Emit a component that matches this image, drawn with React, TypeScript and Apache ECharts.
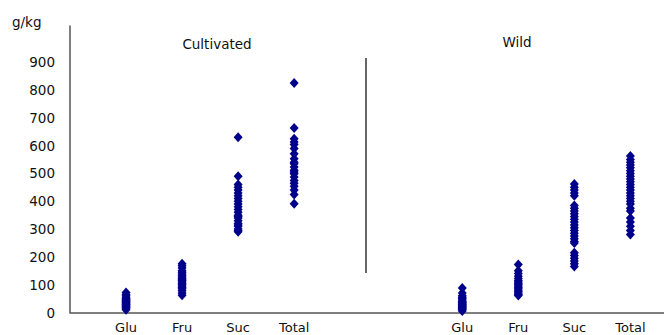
import React, { useEffect, useRef } from "react";
import * as echarts from "echarts";

const categories = ["", "Glu", "Fru", "Suc", "Total", "", "", "Glu", "Fru", "Suc", "Total"];
const yTicks = [0, 100, 200, 300, 400, 500, 600, 700, 800, 900];

// Cultivated (g/kg)
const cultGlu = [10, 15, 18, 20, 22, 25, 28, 30, 32, 35, 38, 40, 42, 45, 48, 50, 55, 60, 65, 72];
const cultFru = [62, 70, 78, 85, 90, 95, 100, 105, 110, 115, 118, 122, 128, 132, 138, 145, 150, 160, 168, 175];
const cultSuc = [630, 490, 460, 450, 440, 430, 420, 410, 400, 390, 380, 370, 360, 350, 345, 340, 330, 320, 315, 310, 300, 295, 290];
const cultTotal = [825, 663, 625, 613, 604, 590, 571, 553, 540, 535, 523, 511, 505, 499, 487, 475, 465, 454, 440, 424, 391];

// Wild (g/kg)
const wildGlu = [5, 10, 12, 15, 18, 20, 22, 25, 28, 30, 33, 35, 38, 40, 45, 50, 55, 60, 70, 88];
const wildFru = [173, 150, 140, 130, 122, 115, 110, 105, 100, 95, 90, 85, 80, 75, 70, 65, 61];
const wildSuc = [462, 450, 440, 430, 420, 385, 375, 365, 355, 345, 335, 325, 315, 305, 295, 285, 275, 265, 255, 250, 215, 205, 195, 185, 175, 165];
const wildTotal = [563, 550, 540, 530, 520, 510, 500, 490, 480, 470, 460, 450, 440, 430, 420, 410, 400, 390, 375, 365, 340, 325, 310, 295, 280];

const groups: [number, number[]][] = [
  [1, cultGlu],
  [2, cultFru],
  [3, cultSuc],
  [4, cultTotal],
  [7, wildGlu],
  [8, wildFru],
  [9, wildSuc],
  [10, wildTotal],
];

const FONT = "'DejaVu Sans', sans-serif";

export default function App() {
  const ref = useRef<HTMLDivElement>(null);
  useEffect(() => {
    if (!ref.current) return;
    const chart = echarts.init(ref.current, undefined, { renderer: "svg" });
    const data: number[][] = [];
    groups.forEach(([x, vals]) => vals.forEach((v) => data.push([x, v])));
    chart.setOption({
      animation: false,
      backgroundColor: "#fff",
      grid: { left: 70, right: 0, top: 26, bottom: 22.5 },
      xAxis: {
        type: "value",
        min: 0,
        max: 10.6,
        interval: 1,
        axisLine: { show: true, lineStyle: { color: "#555", width: 1.5 } },
        axisTick: { show: false },
        splitLine: { show: false },
        axisLabel: {
          margin: 8,
          color: "#111",
          fontSize: 13,
          fontFamily: FONT,
          showMinLabel: true,
          showMaxLabel: false,
          formatter: (v: number) => (Number.isInteger(v) ? categories[v] || "" : ""),
        },
      },
      yAxis: {
        type: "value",
        min: 0,
        max: 1030,
        interval: 100,
        axisLine: { show: true, lineStyle: { color: "#555", width: 1.5 } },
        axisTick: { show: false },
        splitLine: { show: false },
        axisLabel: {
          margin: 15,
          color: "#111",
          fontSize: 13.5,
          fontFamily: FONT,
          showMaxLabel: false,
          formatter: (v: number) => (yTicks.includes(v) ? String(v) : ""),
        },
      },
      graphic: [
        { type: "text", left: 12, top: 15, style: { text: "g/kg", fontSize: 13.5, fontFamily: FONT, fill: "#111" } },
        { type: "text", x: 217, y: 44, style: { text: "Cultivated", fontSize: 13.5, fontFamily: FONT, fill: "#111", align: "center", verticalAlign: "middle" } },
        { type: "text", x: 517, y: 42, style: { text: "Wild", fontSize: 13.5, fontFamily: FONT, fill: "#111", align: "center", verticalAlign: "middle" } },
        { type: "line", shape: { x1: 366, y1: 58, x2: 366, y2: 273 }, style: { stroke: "#333", lineWidth: 1.5 } },
      ],
      series: [
        {
          type: "scatter",
          symbol: "diamond",
          symbolSize: [9, 10],
          itemStyle: { color: "#00008B", opacity: 1 },
          data,
        },
      ],
    });
    return () => chart.dispose();
  }, []);
  return <div ref={ref} style={{ width: 664, height: 335, position: "absolute", left: 0, top: 0 }} />;
}
